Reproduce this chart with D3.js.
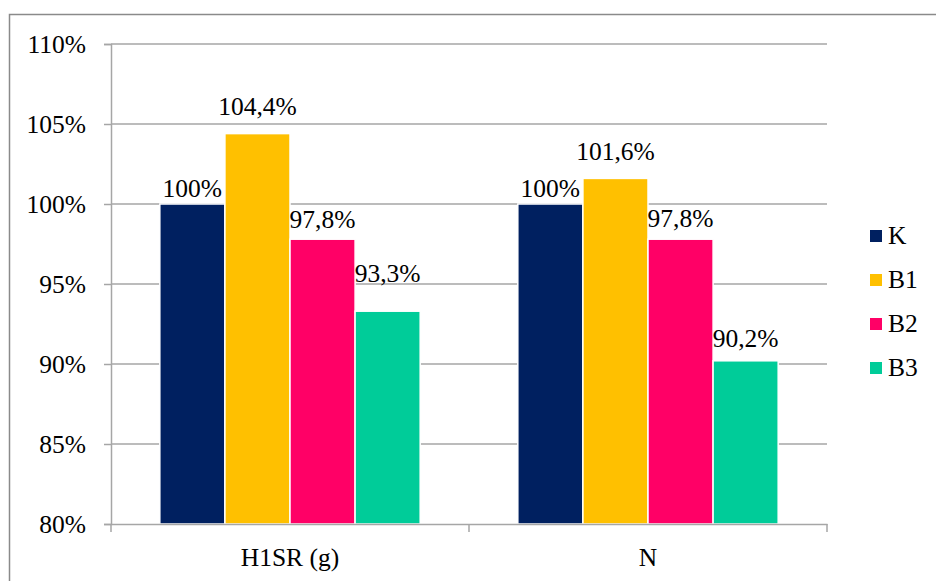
<!DOCTYPE html>
<html>
<head>
<meta charset="utf-8">
<script src="https://cdn.jsdelivr.net/npm/d3@7"></script>
<style>
  html, body { margin: 0; padding: 0; background: #fff; }
  svg { display: block; font-family: "Liberation Serif", "Times New Roman", serif; }
</style>
</head>
<body>
<svg id="chart" width="936" height="581"></svg>
<script>
// Chart data
const categories = ["H1SR (g)", "N"];
const seriesNames = ["K", "B1", "B2", "B3"];
const seriesColors = ["#002060", "#FFC000", "#FF0066", "#00CC99"];
const valuesK  = [100, 100];
const valuesB1 = [104.4, 101.6];
const valuesB2 = [97.8, 97.8];
const valuesB3 = [93.3, 90.2];
const labelsK  = ["100%", "100%"];
const labelsB1 = ["104,4%", "101,6%"];
const labelsB2 = ["97,8%", "97,8%"];
const labelsB3 = ["93,3%", "90,2%"];
const yTicks = [80, 85, 90, 95, 100, 105, 110];

const seriesValues = [valuesK, valuesB1, valuesB2, valuesB3];
const seriesLabels = [labelsK, labelsB1, labelsB2, labelsB3];

// Vertical gap (px) between each bar top and its value label, per series and category
const labelLift = [[7, 7], [18.5, 18], [11, 12], [29, 14]];

const svg = d3.select("#chart");
const gridColor = "#a6a6a6";
const fontFamily = "Liberation Serif, Times New Roman, serif";
const fontSize = 25.5;

// Outer frame
svg.append("rect")
  .attr("x", 9.5).attr("y", 14.5)
  .attr("width", 960).attr("height", 600)
  .attr("fill", "none").attr("stroke", "#8a8a8a").attr("stroke-width", 1.5);

const plot = { left: 111, right: 827, top: 44, bottom: 524 };

const y = d3.scaleLinear().domain([80, 110]).range([plot.bottom, plot.top]);
const x = d3.scaleBand().domain(categories).range([plot.left, plot.right]).paddingInner(0).paddingOuter(0);
const xs = d3.scaleBand().domain(seriesNames).range([0, x.bandwidth()]).paddingInner(0).paddingOuter(0.75);

// Horizontal gridlines
svg.append("g").selectAll("line")
  .data(yTicks.filter(t => t !== 80))
  .join("line")
  .attr("x1", plot.left).attr("x2", plot.right)
  .attr("y1", d => y(d)).attr("y2", d => y(d))
  .attr("stroke", gridColor).attr("stroke-width", 1.5);

// Y axis
const yAxis = d3.axisLeft(y).tickValues(yTicks).tickSize(7).tickPadding(18)
  .tickFormat(d => d + "%");
const yg = svg.append("g").attr("transform", `translate(${plot.left},0)`).call(yAxis);
yg.attr("font-family", fontFamily).attr("font-size", fontSize);
yg.select(".domain").attr("stroke", gridColor).attr("stroke-width", 1.5);
yg.selectAll(".tick line").attr("stroke", gridColor).attr("stroke-width", 1.5);
yg.selectAll(".tick text").attr("fill", "#000");

// Bars
const groups = svg.append("g").selectAll("g")
  .data(categories)
  .join("g")
  .attr("transform", d => `translate(${x(d)},0)`);

seriesNames.forEach((name, si) => {
  groups.append("rect")
    .attr("x", xs(name))
    .attr("width", xs.bandwidth())
    .attr("y", (d, ci) => y(seriesValues[si][ci]))
    .attr("height", (d, ci) => y(80) - y(seriesValues[si][ci]))
    .attr("fill", seriesColors[si])
    .attr("stroke", "#fff").attr("stroke-width", 1.5);

  groups.append("text")
    .attr("x", xs(name) + xs.bandwidth() / 2)
    .attr("y", (d, ci) => y(seriesValues[si][ci]) - labelLift[si][ci])
    .attr("text-anchor", "middle")
    .attr("font-family", fontFamily)
    .attr("font-size", fontSize)
    .attr("fill", "#000")
    .text((d, ci) => seriesLabels[si][ci]);
});

// X axis
const xAxis = d3.axisBottom(x).tickSize(0).tickPadding(24);
const xg = svg.append("g").attr("transform", `translate(0,${plot.bottom})`).call(xAxis);
xg.attr("font-family", fontFamily).attr("font-size", fontSize);
xg.select(".domain").attr("stroke", gridColor).attr("stroke-width", 1.5);
xg.selectAll(".tick text").attr("fill", "#000");
// Category boundary ticks
const boundaries = [plot.left, ...categories.map(c => x(c) + x.bandwidth())];
svg.append("g").selectAll("line")
  .data(boundaries)
  .join("line")
  .attr("x1", d => d).attr("x2", d => d)
  .attr("y1", plot.bottom).attr("y2", plot.bottom + 8)
  .attr("stroke", gridColor).attr("stroke-width", 1.5);

// Legend
const legend = svg.append("g").attr("transform", "translate(870,236)");
const item = legend.selectAll("g")
  .data(seriesNames)
  .join("g")
  .attr("transform", (d, i) => `translate(0,${i * 44})`);
item.append("rect")
  .attr("x", 0).attr("y", -6)
  .attr("width", 12).attr("height", 12)
  .attr("fill", (d, i) => seriesColors[i]);
item.append("text")
  .attr("x", 18).attr("y", 8)
  .attr("font-family", fontFamily)
  .attr("font-size", fontSize).attr("fill", "#000")
  .text(d => d);
</script>
</body>
</html>
